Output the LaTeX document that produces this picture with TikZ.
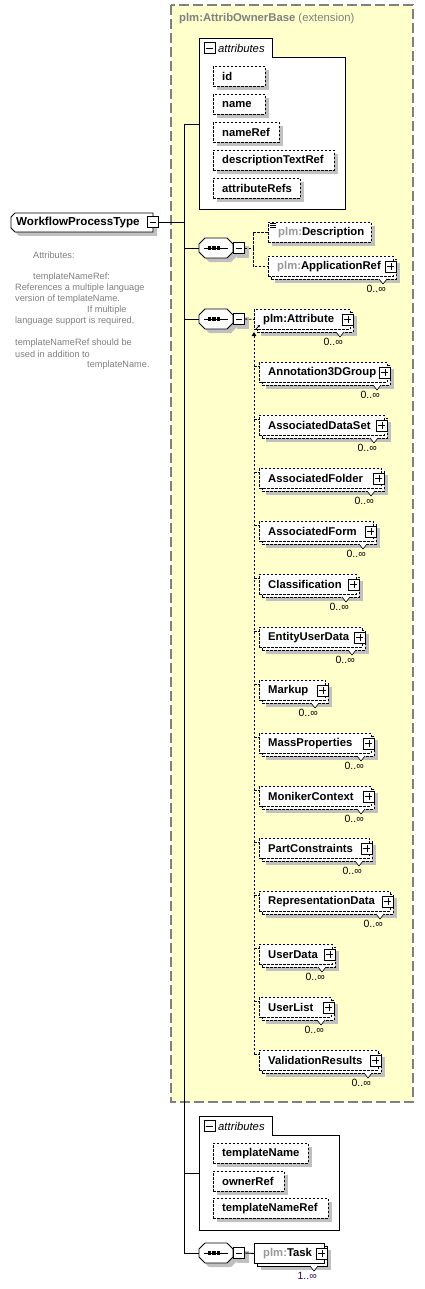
\documentclass[tikz,border=0pt]{standalone}
\usepackage{fontspec}
\setmainfont{Liberation Sans}
\usetikzlibrary{arrows.meta}
\definecolor{yel}{HTML}{FFFFCC}
\definecolor{dgray}{HTML}{808080}
\definecolor{shad}{HTML}{C0C0C0}
\definecolor{pref}{HTML}{999999}
\definecolor{taskm}{HTML}{3A0060}
\tikzset{
 efont/.style={font=\bfseries\fontsize{11.3}{13}\selectfont},
 frameD/.style={draw, dash pattern=on 2.5pt off 1.5pt, line width=0.9pt, fill=white, inner sep=0pt, minimum height=20pt},
 frameS/.style={draw, line width=0.9pt, fill=white, inner sep=0pt, minimum height=20pt},
 etext/.style={efont, inner sep=0pt, anchor=west, text=black},
 mtext/.style={font=\fontsize{10.5}{12}\selectfont, inner sep=0pt},
 iconbox/.style={draw, fill=white, line width=0.9pt, minimum size=11pt, inner sep=0pt},
 conn/.style={line width=0.9pt},
 dconn/.style={line width=0.9pt, dash pattern=on 2.5pt off 1.5pt},
 ctext/.style={font=\fontsize{9.2}{11}\selectfont, text=dgray, inner sep=0pt, anchor=west},
}
\newcommand\plusicon[2]{%
 \node[iconbox] (#1) at #2 {};
 \draw[line width=0.8pt] ([xshift=2.5pt]#1.west) -- ([xshift=-2.5pt]#1.east) ([yshift=-2.5pt]#1.north) -- ([yshift=2.5pt]#1.south);}
\newcommand\minusicon[2]{%
 \node[iconbox] (#1) at #2 {};
 \draw[line width=0.8pt] ([xshift=2.5pt]#1.west) -- ([xshift=-2.5pt]#1.east);}
% attribute box: name x y w text
\newcommand\attrbox[5]{%
 \fill[shad] (#2+4,#3+4) rectangle ++(#4,20);
 \node[frameD, minimum width=#4pt, anchor=north west] (#1) at (#2,#3) {};
 \node[etext] (#1-t) at ([xshift=9pt]#1.west) {#5};}
% multi element: style name x y w label mult
\newcommand\melem[7]{%
 \fill[shad] (#3+7,#4+7) rectangle ++(#5,20);
 \node[#1, minimum width=#5pt, anchor=north west] (#2-b) at (#3+3,#4+3) {};
 \draw[fill=white, line width=0.6pt] (#3+#5-14,#4+23) -- (#3+#5-10,#4+28) -- (#3+#5-6,#4+23);
 \node[#1, minimum width=#5pt, anchor=north west] (#2) at (#3,#4) {};
 \node[etext] (#2-t) at ([xshift=9pt]#2.west) {#6};
 \plusicon{#2-p}{([xshift=-3pt]#2.east)}
 \node[mtext, anchor=east] (#2-m) at (#3+#5-7,#4+33) {#7};}
% sequence compositor: name y
\newcommand\seqc[2]{%
 \fill[shad] (203,#2) -- (209,#2-6) -- (231,#2-6) -- (237,#2) -- (237,#2+8) -- (231,#2+14) -- (209,#2+14) -- (203,#2+8) -- cycle;
 \fill[shad] (237,#2-2) rectangle (249,#2+10);
 \draw[conn, fill=white] (199,#2-4) -- (205,#2-10) -- (227,#2-10) -- (233,#2-4) -- (233,#2+4) -- (227,#2+10) -- (205,#2+10) -- (199,#2+4) -- cycle;
 \draw[line width=0.9pt] (204,#2) -- (228,#2);
 \foreach \dx in {209.5,214,218.5} \fill (\dx-1.6,#2-1.6) rectangle ++(3.2,3.2);
 \coordinate (#1-in) at (199,#2);
 \minusicon{#1}{(239,#2)}}
% tabbed attribute group: name top bottom right
\newcommand\attrgroup[4]{%
 \draw[conn, fill=white] (199,#2) -- (272,#2) -- (272,#2+19) -- (#4,#2+19) -- (#4,#3) -- (199,#3) -- cycle;
 \minusicon{#1-m}{(209.5,#2+10)}
 \node[font=\itshape\fontsize{11.3}{13}\selectfont, anchor=west, inner sep=0pt] (#1-t) at (218,#2+10) {attributes};}

\begin{document}
\begin{tikzpicture}[x=1pt,y=-1pt]
\useasboundingbox (0,0) rectangle (424,1289);
\fill[white] (0,0) rectangle (424,1289);

% extension box
\draw[fill=yel, draw=dgray, line width=1.2pt, dash pattern=on 10pt off 4pt] (171,5) rectangle (413,1102);
\node[anchor=west, inner sep=0pt, text=dgray, font=\fontsize{11.3}{13}\selectfont] (ext) at (179,19) {\textbf{plm:AttribOwnerBase} (extension)};

% trunk coordinates
\coordinate (t1) at (184,124);
\coordinate (t0) at (184,222);
\coordinate (t2) at (184,248);
\coordinate (t3) at (184,319);
\coordinate (t4) at (184,1173);
\coordinate (t5) at (184,1253);

% attributes group 1
\attrgroup{ag1}{38}{209}{345}
\coordinate (ag1) at (199,124);
\attrbox{id}{213}{66}{52}{id}
\attrbox{name}{213}{94}{52}{name}
\attrbox{nameRef}{213}{122}{66}{nameRef}
\attrbox{descriptionTextRef}{213}{150}{121}{descriptionTextRef}
\attrbox{attributeRefs}{213}{178}{87}{attributeRefs}

% root element
\fill[shad] (19,217) -- (157,217) -- (157,236) -- (19,236) -- (15,232) -- (15,221) -- cycle;
\draw[conn, fill=white] (15,213) -- (153,213) -- (153,232) -- (15,232) -- (11,228) -- (11,217) -- cycle;
\node[etext, font=\bfseries\fontsize{11.6}{13}\selectfont] (WPT) at (16,222.5) {WorkflowProcessType};
\minusicon{WPTm}{(153,222)}

% trunk
\draw[conn] (t1) -- (t5);
\draw[conn] (t1) -- (ag1);
\draw[conn] (WPTm.east) -- (t0);

% sequence 1
\seqc{seqA}{248}
\draw[conn] (t2) -- (seqA-in);
\fill[shad] (272,226) rectangle ++(103,20);
\node[frameD, minimum width=103pt, anchor=north west] (desc) at (268,222) {};
\node[etext] (desc-t) at ([xshift=10pt]desc.west) {\textcolor{pref}{plm:}Description};
\draw[line width=0.6pt] (270,223.5) -- ++(6,0) (270,225.5) -- ++(6,0) (270,227.5) -- ++(6,0);
\melem{frameD}{appref}{268}{256}{125}{\textcolor{pref}{plm:}ApplicationRef}{0..∞}
\coordinate (chA) at (253,248);
\draw[dconn] (seqA.east) -- (chA);
\draw[dconn] (chA) |- (desc.west);
\draw[dconn] (chA) |- (appref.west);

% sequence 2
\seqc{seqB}{319}
\draw[conn] (t3) -- (seqB-in);
\melem{frameD}{attr}{254}{309}{96}{plm:Attribute}{0..∞}
\draw[dconn] (seqB.east) -- (attr.west);
\draw[line width=0.8pt, -{Triangle[length=2.5pt,width=2.5pt]}] ([xshift=2pt,yshift=1pt]attr.south west) -- ++(4,-4);

% substitution group members
\melem{frameD}{Annotation3DGroup}{259}{362}{128}{Annotation3DGroup}{0..∞}
\melem{frameD}{AssociatedDataSet}{259}{415}{125}{AssociatedDataSet}{0..∞}
\melem{frameD}{AssociatedFolder}{259}{468}{122}{AssociatedFolder}{0..∞}
\melem{frameD}{AssociatedForm}{259}{521}{114}{AssociatedForm}{0..∞}
\melem{frameD}{Classification}{259}{574}{97}{Classification}{0..∞}
\melem{frameD}{EntityUserData}{259}{627}{103}{EntityUserData}{0..∞}
\melem{frameD}{Markup}{259}{680}{66}{Markup}{0..∞}
\melem{frameD}{MassProperties}{259}{733}{112}{MassProperties}{0..∞}
\melem{frameD}{MonikerContext}{259}{786}{112}{MonikerContext}{0..∞}
\melem{frameD}{PartConstraints}{259}{838}{110}{PartConstraints}{0..∞}
\melem{frameD}{RepresentationData}{259}{891}{131}{RepresentationData}{0..∞}
\melem{frameD}{UserData}{259}{944}{73}{UserData}{0..∞}
\melem{frameD}{UserList}{259}{997}{72}{UserList}{0..∞}
\melem{frameD}{ValidationResults}{259}{1050}{119}{ValidationResults}{0..∞}

\coordinate (sg) at (254,332);
\draw[dconn, -{Triangle[length=4pt,width=4.5pt]}] ([xshift=-5pt,yshift=6pt]ValidationResults.west) -- (sg);
\foreach \m in {Annotation3DGroup,AssociatedDataSet,AssociatedFolder,AssociatedForm,Classification,EntityUserData,Markup,MassProperties,MonikerContext,PartConstraints,RepresentationData,UserData,UserList,ValidationResults}
  \draw[dconn] ([xshift=-5pt,yshift=6pt]\m.west) -- ([yshift=6pt]\m.west);

% comment text
\node[ctext] (c1) at (33,255) {Attributes:};
\node[ctext] (c2) at (33,277) {templateNameRef:};
\node[ctext] (c3) at (15,288) {References a multiple language};
\node[ctext] (c4) at (15,299) {version of templateName.};
\node[ctext] (c5) at (87,310) {If multiple};
\node[ctext] (c6) at (15,321) {language support is required,};
\node[ctext] (c7) at (15,343) {templateNameRef should be};
\node[ctext] (c8) at (15,354) {used in addition to};
\node[ctext] (c9) at (87,365) {templateName.};

% attributes group 2
\attrgroup{ag2}{1116}{1230}{339}
\coordinate (ag2) at (199,1173);
\draw[conn] (t4) -- (ag2);
\attrbox{templateName}{213}{1143}{95}{templateName}
\attrbox{ownerRef}{213}{1171}{71}{ownerRef}
\attrbox{templateNameRef}{213}{1198}{115}{templateNameRef}

% sequence 3
\seqc{seqC}{1253}
\draw[conn] (t5) -- (seqC-in);
\melem{frameS}{task}{254}{1243}{70}{\textcolor{pref}{plm:}Task}{\textcolor{taskm}{1..∞}}
\draw[conn] (seqC.east) -- (task.west);
\end{tikzpicture}
\end{document}
